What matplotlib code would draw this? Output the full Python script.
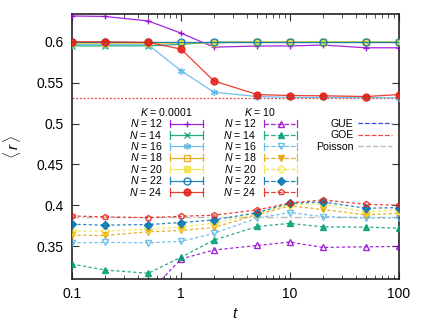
import numpy as np
import matplotlib
matplotlib.use("Agg")
import matplotlib.pyplot as plt
from matplotlib.lines import Line2D
from matplotlib.legend_handler import HandlerBase
from matplotlib.ticker import LogLocator, NullFormatter, FixedLocator

plt.rcParams['font.family'] = ['Liberation Sans', 'DejaVu Sans']
plt.rcParams['mathtext.fontset'] = 'custom'
plt.rcParams['mathtext.it'] = 'Liberation Sans:italic'
plt.rcParams['mathtext.rm'] = 'Liberation Sans'

t = [0.1, 0.2, 0.5, 1, 2, 5, 10, 20, 50, 100]
sizes = [12, 14, 16, 18, 20, 22, 24]

# K = 0.0001
k1_N12 = [0.6316, 0.631, 0.6255, 0.6106, 0.5935, 0.5948, 0.595, 0.596, 0.5927, 0.5927]
k1_N14 = [0.595, 0.595, 0.595, 0.597, 0.5995, 0.6, 0.6, 0.6, 0.6, 0.6]
k1_N16 = [0.5965, 0.5965, 0.5965, 0.5647, 0.5384, 0.5331, 0.532, 0.532, 0.5316, 0.5316]
k1_N18 = [0.599, 0.599, 0.599, 0.5985, 0.599, 0.5995, 0.5995, 0.5995, 0.5995, 0.5995]
k1_N20 = [0.598, 0.598, 0.598, 0.599, 0.599, 0.6, 0.6, 0.6, 0.6, 0.6]
k1_N22 = [0.5995, 0.5995, 0.5995, 0.5995, 0.5995, 0.5995, 0.5995, 0.5995, 0.5995, 0.5995]
k1_N24 = [0.6, 0.6, 0.5993, 0.5911, 0.5522, 0.5355, 0.5343, 0.534, 0.5331, 0.5355]

# K = 10
k2_N12 = [0.29, 0.29, 0.292, 0.3344, 0.3454, 0.351, 0.3551, 0.3486, 0.3494, 0.3498]
k2_N14 = [0.3283, 0.321, 0.317, 0.3365, 0.3575, 0.3742, 0.378, 0.3737, 0.3734, 0.3722]
k2_N16 = [0.3543, 0.3547, 0.3543, 0.356, 0.3657, 0.3847, 0.3912, 0.3863, 0.3847, 0.3847]
k2_N18 = [0.3636, 0.3632, 0.3677, 0.3693, 0.373, 0.3888, 0.3993, 0.395, 0.3884, 0.3904]
k2_N20 = [0.3689, 0.3685, 0.3709, 0.3737, 0.3782, 0.39, 0.401, 0.4018, 0.392, 0.3944]
k2_N22 = [0.377, 0.3758, 0.3766, 0.379, 0.3822, 0.3912, 0.4026, 0.4042, 0.3965, 0.3973]
k2_N24 = [0.3871, 0.3859, 0.385, 0.3867, 0.388, 0.3944, 0.403, 0.4066, 0.4013, 0.4001]

gue = 0.5996
goe = 0.5307
poisson = 0.3863

xticks = [0.1, 1, 10, 100]
xticklabels = ['0.1', '1', '10', '100']
yticks = [0.35, 0.4, 0.45, 0.5, 0.55, 0.6]
yticklabels = ['0.35', '0.4', '0.45', '0.5', '0.55', '0.6']

colors = ['#9400D3', '#009E73', '#56B4E9', '#E69F00', '#F0E442', '#0072B2', '#E51E10']
k1_markers = [dict(marker='+'), dict(marker='x'), dict(marker=(6, 2, 0)),
              dict(marker='s', mfc='none'), dict(marker='s'),
              dict(marker='o', mfc='none'), dict(marker='o')]
k2_markers = [dict(marker='^', mfc='none'), dict(marker='^'),
              dict(marker='v', mfc='none'), dict(marker='v'),
              dict(marker='D', mfc='none'), dict(marker='D'),
              dict(marker='p', mfc='none')]

k1 = [k1_N12, k1_N14, k1_N16, k1_N18, k1_N20, k1_N22, k1_N24]
k2 = [k2_N12, k2_N14, k2_N16, k2_N18, k2_N20, k2_N22, k2_N24]


class CapHandler(HandlerBase):
    def __init__(self, caps=True):
        super().__init__()
        self.caps = caps

    def create_artists(self, legend, orig, xdescent, ydescent, width, height, fontsize, trans):
        x0 = -xdescent
        x1 = -xdescent + width
        yc = (height - ydescent) / 2
        h = height * 0.5
        kw = dict(color=orig.get_color(), lw=orig.get_linewidth(), alpha=orig.get_alpha())
        arts = [Line2D([x0, x1], [yc, yc], ls=orig.get_linestyle(), **kw)]
        if self.caps:
            arts.append(Line2D([x0, x0], [yc - h, yc + h], ls='-', **kw))
            arts.append(Line2D([x1, x1], [yc - h, yc + h], ls='-', **kw))
            arts.append(Line2D([(x0 + x1) / 2], [yc], ls='none', marker=orig.get_marker(),
                               ms=orig.get_markersize(), mfc=orig.get_markerfacecolor(),
                               mec=orig.get_markeredgecolor(), mew=orig.get_markeredgewidth(),
                               alpha=orig.get_alpha()))
        for a in arts:
            a.set_transform(trans)
        return arts


fig = plt.figure(figsize=(4.28, 3.22), dpi=100)
ax = fig.add_axes([72 / 428, 1 - 279 / 322, 327 / 428, 265 / 322])

ax.axhline(gue, color='#3050E0', lw=0.9, ls=(0, (1, 1.5)), zorder=1)
ax.axhline(goe, color='#F04040', lw=0.9, ls=(0, (1.5, 1.5)), zorder=1)
ax.axhline(poisson, color='#BBBBBB', lw=1.0, ls=(0, (5, 2, 1, 2)), zorder=1)

h1 = []
for i, (vals, m) in enumerate(zip(k1, k1_markers)):
    l, = ax.plot(t, vals, color=colors[i], lw=0.9, ms=5, mew=1.0, alpha=0.85,
                 zorder=3 + i * 0.1, **m)
    h1.append(l)
h2 = []
for i, (vals, m) in enumerate(zip(k2, k2_markers)):
    l, = ax.plot(t, vals, color=colors[i], lw=0.9, ls=(0, (2.5, 2)), ms=4.2, mew=1.0,
                 alpha=0.85, zorder=3 + i * 0.1, **m)
    h2.append(l)

ax.set_xscale('log')
ax.set_xlim(0.1, 100)
ax.set_ylim(0.31, 0.634)
ax.xaxis.set_major_locator(FixedLocator(xticks))
ax.set_xticklabels(xticklabels)
ax.xaxis.set_minor_locator(LogLocator(base=10, subs=np.arange(2, 10)))
ax.xaxis.set_minor_formatter(NullFormatter())
ax.set_yticks(yticks)
ax.set_yticklabels(yticklabels)
ax.tick_params(which='both', direction='in', top=True, right=True, labelsize=10,
               color='#333333')
ax.tick_params(which='major', length=5, width=0.8, pad=6)
ax.tick_params(which='minor', length=3, width=0.6)
for s in ax.spines.values():
    s.set_linewidth(1.2)
    s.set_color('#222222')

ax.set_xlabel(r'$t$', fontsize=11, labelpad=4)
ax.set_ylabel(r'$\langle\, r \,\rangle$', fontsize=11, labelpad=10)

fs = 7.6
lab = ['$N$ = %d' % n for n in sizes]
common = dict(frameon=False, fontsize=fs, markerfirst=False, handlelength=3.1,
              labelspacing=-0.06, handletextpad=0.75, borderpad=0, borderaxespad=0,
              title_fontsize=fs)
top = (279 - 106) / 265
leg1 = ax.legend(h1, lab, title='$K$ = 0.0001', loc='upper right',
                 bbox_to_anchor=((203 - 72) / 327, top),
                 handler_map={Line2D: CapHandler()}, **common)
ax.add_artist(leg1)
leg2 = ax.legend(h2, lab, title='$K$ = 10', loc='upper right',
                 bbox_to_anchor=((297 - 72) / 327, top),
                 handler_map={Line2D: CapHandler()}, **common)
ax.add_artist(leg2)
ref = [Line2D([], [], color='#3050E0', lw=0.9, ls=(0, (1, 1.5))),
       Line2D([], [], color='#F04040', lw=0.9, ls=(0, (1.5, 1.5))),
       Line2D([], [], color='#BBBBBB', lw=1.0, ls=(0, (5, 2, 1, 2)))]
c3 = dict(common)
c3.pop('title_fontsize')
c3['handlelength'] = 3.2
c3['handletextpad'] = 0.45
c3['labelspacing'] = 0.12
leg3 = ax.legend(ref, ['GUE', 'GOE', 'Poisson'], loc='upper right',
                 bbox_to_anchor=((392 - 72) / 327, (279 - 119) / 265),
                 handler_map={Line2D: CapHandler(caps=False)}, **c3)

fig.savefig('out.png', dpi=100)
